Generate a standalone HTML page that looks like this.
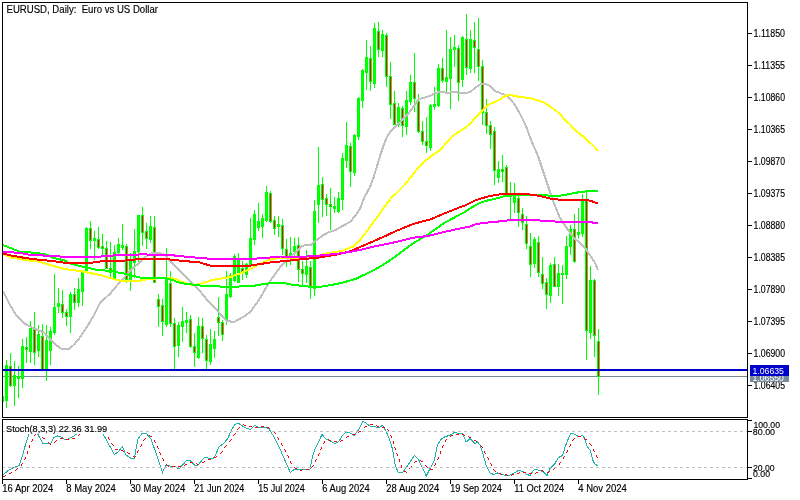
<!DOCTYPE html><html><head><meta charset="utf-8"><title>EURUSD Daily</title><style>html,body{margin:0;padding:0;background:#fff;width:800px;height:500px;overflow:hidden}svg{display:block}</style></head><body><svg width="800" height="500" viewBox="0 0 800 500"><defs><clipPath id="cm"><rect x="3" y="3" width="744" height="414"/></clipPath><clipPath id="cs"><rect x="3" y="420" width="744" height="59"/></clipPath></defs><rect x="0" y="0" width="800" height="500" fill="#ffffff"/><g clip-path="url(#cm)"><rect x="3" y="376" width="744" height="1" fill="#778899" shape-rendering="crispEdges"/><g shape-rendering="crispEdges"><rect x="2" y="391" width="1" height="16" fill="#00ff00"/><rect x="1" y="396" width="3" height="6" fill="#00ff00"/><rect x="6" y="360" width="1" height="48" fill="#00ff00"/><rect x="5" y="365" width="3" height="36" fill="#00ff00"/><rect x="10" y="353" width="1" height="34" fill="#00ff00"/><rect x="9" y="366" width="3" height="20" fill="#00ff00"/><rect x="10" y="367" width="1" height="18" fill="#ff0000"/><rect x="14" y="361" width="1" height="45" fill="#00ff00"/><rect x="13" y="375" width="3" height="11" fill="#00ff00"/><rect x="18" y="366" width="1" height="32" fill="#00ff00"/><rect x="17" y="376" width="3" height="3" fill="#00ff00"/><rect x="22" y="339" width="1" height="49" fill="#00ff00"/><rect x="21" y="346" width="3" height="33" fill="#00ff00"/><rect x="26" y="337" width="1" height="26" fill="#00ff00"/><rect x="25" y="347" width="3" height="3" fill="#00ff00"/><rect x="26" y="348" width="1" height="1" fill="#ff0000"/><rect x="30" y="321" width="1" height="42" fill="#00ff00"/><rect x="29" y="328" width="3" height="24" fill="#00ff00"/><rect x="34" y="312" width="1" height="53" fill="#00ff00"/><rect x="33" y="328" width="3" height="25" fill="#00ff00"/><rect x="34" y="329" width="1" height="23" fill="#ff0000"/><rect x="38" y="325" width="1" height="32" fill="#00ff00"/><rect x="37" y="334" width="3" height="17" fill="#00ff00"/><rect x="42" y="324" width="1" height="46" fill="#00ff00"/><rect x="41" y="336" width="3" height="34" fill="#00ff00"/><rect x="42" y="337" width="1" height="32" fill="#ff0000"/><rect x="46" y="325" width="1" height="56" fill="#00ff00"/><rect x="45" y="340" width="3" height="30" fill="#00ff00"/><rect x="50" y="327" width="1" height="38" fill="#00ff00"/><rect x="49" y="331" width="3" height="20" fill="#00ff00"/><rect x="54" y="274" width="1" height="61" fill="#00ff00"/><rect x="53" y="307" width="3" height="26" fill="#00ff00"/><rect x="58" y="288" width="1" height="25" fill="#00ff00"/><rect x="57" y="303" width="3" height="4" fill="#00ff00"/><rect x="62" y="290" width="1" height="28" fill="#00ff00"/><rect x="61" y="304" width="3" height="9" fill="#00ff00"/><rect x="62" y="305" width="1" height="7" fill="#ff0000"/><rect x="66" y="309" width="1" height="17" fill="#00ff00"/><rect x="65" y="312" width="3" height="5" fill="#00ff00"/><rect x="66" y="313" width="1" height="3" fill="#ff0000"/><rect x="70" y="292" width="1" height="41" fill="#00ff00"/><rect x="69" y="294" width="3" height="23" fill="#00ff00"/><rect x="74" y="288" width="1" height="22" fill="#00ff00"/><rect x="73" y="294" width="3" height="9" fill="#00ff00"/><rect x="74" y="295" width="1" height="7" fill="#ff0000"/><rect x="78" y="278" width="1" height="29" fill="#00ff00"/><rect x="77" y="289" width="3" height="14" fill="#00ff00"/><rect x="82" y="270" width="1" height="36" fill="#00ff00"/><rect x="81" y="272" width="3" height="20" fill="#00ff00"/><rect x="86" y="227" width="1" height="46" fill="#00ff00"/><rect x="85" y="228" width="3" height="45" fill="#00ff00"/><rect x="90" y="221" width="1" height="28" fill="#00ff00"/><rect x="89" y="228" width="3" height="13" fill="#00ff00"/><rect x="90" y="229" width="1" height="11" fill="#ff0000"/><rect x="94" y="231" width="1" height="29" fill="#00ff00"/><rect x="93" y="238" width="3" height="3" fill="#00ff00"/><rect x="98" y="227" width="1" height="22" fill="#00ff00"/><rect x="97" y="239" width="3" height="9" fill="#00ff00"/><rect x="98" y="240" width="1" height="7" fill="#ff0000"/><rect x="102" y="234" width="1" height="22" fill="#00ff00"/><rect x="101" y="246" width="3" height="3" fill="#00ff00"/><rect x="102" y="247" width="1" height="1" fill="#ff0000"/><rect x="106" y="241" width="1" height="28" fill="#00ff00"/><rect x="105" y="248" width="3" height="21" fill="#00ff00"/><rect x="106" y="249" width="1" height="19" fill="#ff0000"/><rect x="110" y="242" width="1" height="37" fill="#00ff00"/><rect x="109" y="268" width="3" height="5" fill="#00ff00"/><rect x="110" y="269" width="1" height="3" fill="#ff0000"/><rect x="114" y="245" width="1" height="35" fill="#00ff00"/><rect x="113" y="252" width="3" height="28" fill="#00ff00"/><rect x="118" y="238" width="1" height="18" fill="#00ff00"/><rect x="117" y="244" width="3" height="9" fill="#00ff00"/><rect x="122" y="224" width="1" height="26" fill="#00ff00"/><rect x="121" y="245" width="3" height="3" fill="#00ff00"/><rect x="126" y="244" width="1" height="39" fill="#00ff00"/><rect x="125" y="246" width="3" height="34" fill="#00ff00"/><rect x="126" y="247" width="1" height="32" fill="#ff0000"/><rect x="130" y="253" width="1" height="38" fill="#00ff00"/><rect x="129" y="260" width="3" height="22" fill="#00ff00"/><rect x="134" y="229" width="1" height="49" fill="#00ff00"/><rect x="133" y="251" width="3" height="12" fill="#00ff00"/><rect x="138" y="215" width="1" height="47" fill="#00ff00"/><rect x="137" y="215" width="3" height="37" fill="#00ff00"/><rect x="142" y="207" width="1" height="39" fill="#00ff00"/><rect x="141" y="215" width="3" height="18" fill="#00ff00"/><rect x="142" y="216" width="1" height="16" fill="#ff0000"/><rect x="146" y="223" width="1" height="26" fill="#00ff00"/><rect x="145" y="231" width="3" height="8" fill="#00ff00"/><rect x="146" y="232" width="1" height="6" fill="#ff0000"/><rect x="150" y="216" width="1" height="27" fill="#00ff00"/><rect x="149" y="226" width="3" height="14" fill="#00ff00"/><rect x="154" y="216" width="1" height="67" fill="#00ff00"/><rect x="153" y="227" width="3" height="56" fill="#00ff00"/><rect x="154" y="228" width="1" height="54" fill="#ff0000"/><rect x="158" y="294" width="1" height="33" fill="#00ff00"/><rect x="157" y="299" width="3" height="8" fill="#00ff00"/><rect x="158" y="300" width="1" height="6" fill="#ff0000"/><rect x="162" y="299" width="1" height="37" fill="#00ff00"/><rect x="161" y="305" width="3" height="17" fill="#00ff00"/><rect x="162" y="306" width="1" height="15" fill="#ff0000"/><rect x="166" y="248" width="1" height="79" fill="#00ff00"/><rect x="165" y="279" width="3" height="46" fill="#00ff00"/><rect x="170" y="271" width="1" height="56" fill="#00ff00"/><rect x="169" y="283" width="3" height="41" fill="#00ff00"/><rect x="170" y="284" width="1" height="39" fill="#ff0000"/><rect x="174" y="318" width="1" height="51" fill="#00ff00"/><rect x="173" y="323" width="3" height="24" fill="#00ff00"/><rect x="174" y="324" width="1" height="22" fill="#ff0000"/><rect x="178" y="322" width="1" height="35" fill="#00ff00"/><rect x="177" y="325" width="3" height="21" fill="#00ff00"/><rect x="182" y="307" width="1" height="35" fill="#00ff00"/><rect x="181" y="321" width="3" height="6" fill="#00ff00"/><rect x="186" y="312" width="1" height="21" fill="#00ff00"/><rect x="185" y="320" width="3" height="3" fill="#00ff00"/><rect x="190" y="315" width="1" height="33" fill="#00ff00"/><rect x="189" y="319" width="3" height="28" fill="#00ff00"/><rect x="190" y="320" width="1" height="26" fill="#ff0000"/><rect x="194" y="333" width="1" height="34" fill="#00ff00"/><rect x="193" y="346" width="3" height="7" fill="#00ff00"/><rect x="194" y="347" width="1" height="5" fill="#ff0000"/><rect x="198" y="317" width="1" height="42" fill="#00ff00"/><rect x="197" y="326" width="3" height="32" fill="#00ff00"/><rect x="202" y="318" width="1" height="35" fill="#00ff00"/><rect x="201" y="326" width="3" height="13" fill="#00ff00"/><rect x="202" y="327" width="1" height="11" fill="#ff0000"/><rect x="206" y="335" width="1" height="35" fill="#00ff00"/><rect x="205" y="339" width="3" height="22" fill="#00ff00"/><rect x="206" y="340" width="1" height="20" fill="#ff0000"/><rect x="210" y="329" width="1" height="36" fill="#00ff00"/><rect x="209" y="344" width="3" height="18" fill="#00ff00"/><rect x="214" y="331" width="1" height="27" fill="#00ff00"/><rect x="213" y="339" width="3" height="10" fill="#00ff00"/><rect x="218" y="297" width="1" height="39" fill="#00ff00"/><rect x="217" y="317" width="3" height="6" fill="#00ff00"/><rect x="218" y="318" width="1" height="4" fill="#ff0000"/><rect x="222" y="320" width="1" height="21" fill="#00ff00"/><rect x="221" y="322" width="3" height="13" fill="#00ff00"/><rect x="222" y="323" width="1" height="11" fill="#ff0000"/><rect x="226" y="271" width="1" height="54" fill="#00ff00"/><rect x="225" y="294" width="3" height="26" fill="#00ff00"/><rect x="230" y="273" width="1" height="25" fill="#00ff00"/><rect x="229" y="275" width="3" height="22" fill="#00ff00"/><rect x="234" y="254" width="1" height="28" fill="#00ff00"/><rect x="233" y="256" width="3" height="25" fill="#00ff00"/><rect x="238" y="253" width="1" height="30" fill="#00ff00"/><rect x="237" y="260" width="3" height="23" fill="#00ff00"/><rect x="242" y="261" width="1" height="19" fill="#00ff00"/><rect x="241" y="268" width="3" height="5" fill="#00ff00"/><rect x="242" y="269" width="1" height="3" fill="#ff0000"/><rect x="246" y="263" width="1" height="15" fill="#00ff00"/><rect x="245" y="264" width="3" height="11" fill="#00ff00"/><rect x="250" y="218" width="1" height="49" fill="#00ff00"/><rect x="249" y="238" width="3" height="28" fill="#00ff00"/><rect x="254" y="210" width="1" height="35" fill="#00ff00"/><rect x="253" y="214" width="3" height="26" fill="#00ff00"/><rect x="258" y="203" width="1" height="28" fill="#00ff00"/><rect x="257" y="221" width="3" height="7" fill="#00ff00"/><rect x="262" y="214" width="1" height="24" fill="#00ff00"/><rect x="261" y="218" width="3" height="9" fill="#00ff00"/><rect x="266" y="186" width="1" height="36" fill="#00ff00"/><rect x="265" y="192" width="3" height="29" fill="#00ff00"/><rect x="270" y="191" width="1" height="32" fill="#00ff00"/><rect x="269" y="193" width="3" height="29" fill="#00ff00"/><rect x="270" y="194" width="1" height="27" fill="#ff0000"/><rect x="274" y="216" width="1" height="19" fill="#00ff00"/><rect x="273" y="220" width="3" height="9" fill="#00ff00"/><rect x="274" y="221" width="1" height="7" fill="#ff0000"/><rect x="278" y="216" width="1" height="21" fill="#00ff00"/><rect x="277" y="224" width="3" height="3" fill="#00ff00"/><rect x="282" y="219" width="1" height="36" fill="#00ff00"/><rect x="281" y="225" width="3" height="24" fill="#00ff00"/><rect x="282" y="226" width="1" height="22" fill="#ff0000"/><rect x="286" y="239" width="1" height="28" fill="#00ff00"/><rect x="285" y="249" width="3" height="8" fill="#00ff00"/><rect x="286" y="250" width="1" height="6" fill="#ff0000"/><rect x="290" y="237" width="1" height="28" fill="#00ff00"/><rect x="289" y="253" width="3" height="4" fill="#00ff00"/><rect x="294" y="238" width="1" height="19" fill="#00ff00"/><rect x="293" y="246" width="3" height="6" fill="#00ff00"/><rect x="298" y="237" width="1" height="45" fill="#00ff00"/><rect x="297" y="245" width="3" height="25" fill="#00ff00"/><rect x="298" y="246" width="1" height="23" fill="#ff0000"/><rect x="302" y="261" width="1" height="24" fill="#00ff00"/><rect x="301" y="269" width="3" height="5" fill="#00ff00"/><rect x="302" y="270" width="1" height="3" fill="#ff0000"/><rect x="306" y="250" width="1" height="33" fill="#00ff00"/><rect x="305" y="266" width="3" height="9" fill="#00ff00"/><rect x="310" y="261" width="1" height="38" fill="#00ff00"/><rect x="309" y="267" width="3" height="20" fill="#00ff00"/><rect x="310" y="268" width="1" height="18" fill="#ff0000"/><rect x="314" y="200" width="1" height="96" fill="#00ff00"/><rect x="313" y="211" width="3" height="78" fill="#00ff00"/><rect x="318" y="147" width="1" height="76" fill="#00ff00"/><rect x="317" y="185" width="3" height="20" fill="#00ff00"/><rect x="322" y="177" width="1" height="40" fill="#00ff00"/><rect x="321" y="184" width="3" height="16" fill="#00ff00"/><rect x="322" y="185" width="1" height="14" fill="#ff0000"/><rect x="326" y="194" width="1" height="22" fill="#00ff00"/><rect x="325" y="198" width="3" height="7" fill="#00ff00"/><rect x="326" y="199" width="1" height="5" fill="#ff0000"/><rect x="330" y="188" width="1" height="42" fill="#00ff00"/><rect x="329" y="204" width="3" height="3" fill="#00ff00"/><rect x="330" y="205" width="1" height="1" fill="#ff0000"/><rect x="334" y="197" width="1" height="16" fill="#00ff00"/><rect x="333" y="206" width="3" height="3" fill="#00ff00"/><rect x="338" y="192" width="1" height="21" fill="#00ff00"/><rect x="337" y="198" width="3" height="14" fill="#00ff00"/><rect x="342" y="153" width="1" height="57" fill="#00ff00"/><rect x="341" y="158" width="3" height="42" fill="#00ff00"/><rect x="346" y="122" width="1" height="46" fill="#00ff00"/><rect x="345" y="145" width="3" height="16" fill="#00ff00"/><rect x="350" y="143" width="1" height="44" fill="#00ff00"/><rect x="349" y="146" width="3" height="26" fill="#00ff00"/><rect x="350" y="147" width="1" height="24" fill="#ff0000"/><rect x="354" y="134" width="1" height="42" fill="#00ff00"/><rect x="353" y="135" width="3" height="38" fill="#00ff00"/><rect x="358" y="97" width="1" height="43" fill="#00ff00"/><rect x="357" y="98" width="3" height="39" fill="#00ff00"/><rect x="362" y="69" width="1" height="39" fill="#00ff00"/><rect x="361" y="70" width="3" height="31" fill="#00ff00"/><rect x="366" y="40" width="1" height="50" fill="#00ff00"/><rect x="365" y="57" width="3" height="16" fill="#00ff00"/><rect x="370" y="46" width="1" height="45" fill="#00ff00"/><rect x="369" y="58" width="3" height="24" fill="#00ff00"/><rect x="370" y="59" width="1" height="22" fill="#ff0000"/><rect x="374" y="23" width="1" height="65" fill="#00ff00"/><rect x="373" y="28" width="3" height="56" fill="#00ff00"/><rect x="378" y="22" width="1" height="35" fill="#00ff00"/><rect x="377" y="31" width="3" height="19" fill="#00ff00"/><rect x="378" y="32" width="1" height="17" fill="#ff0000"/><rect x="382" y="30" width="1" height="27" fill="#00ff00"/><rect x="381" y="34" width="3" height="17" fill="#00ff00"/><rect x="386" y="33" width="1" height="54" fill="#00ff00"/><rect x="385" y="35" width="3" height="42" fill="#00ff00"/><rect x="386" y="36" width="1" height="40" fill="#ff0000"/><rect x="390" y="62" width="1" height="57" fill="#00ff00"/><rect x="389" y="76" width="3" height="29" fill="#00ff00"/><rect x="390" y="77" width="1" height="27" fill="#ff0000"/><rect x="394" y="91" width="1" height="34" fill="#00ff00"/><rect x="393" y="103" width="3" height="22" fill="#00ff00"/><rect x="394" y="104" width="1" height="20" fill="#ff0000"/><rect x="398" y="103" width="1" height="24" fill="#00ff00"/><rect x="397" y="107" width="3" height="18" fill="#00ff00"/><rect x="402" y="106" width="1" height="31" fill="#00ff00"/><rect x="401" y="108" width="3" height="18" fill="#00ff00"/><rect x="402" y="109" width="1" height="16" fill="#ff0000"/><rect x="406" y="91" width="1" height="44" fill="#00ff00"/><rect x="405" y="100" width="3" height="27" fill="#00ff00"/><rect x="410" y="75" width="1" height="30" fill="#00ff00"/><rect x="409" y="82" width="3" height="20" fill="#00ff00"/><rect x="414" y="53" width="1" height="59" fill="#00ff00"/><rect x="413" y="82" width="3" height="17" fill="#00ff00"/><rect x="414" y="83" width="1" height="15" fill="#ff0000"/><rect x="418" y="94" width="1" height="39" fill="#00ff00"/><rect x="417" y="101" width="3" height="31" fill="#00ff00"/><rect x="418" y="102" width="1" height="29" fill="#ff0000"/><rect x="422" y="121" width="1" height="24" fill="#00ff00"/><rect x="421" y="131" width="3" height="11" fill="#00ff00"/><rect x="422" y="132" width="1" height="9" fill="#ff0000"/><rect x="426" y="117" width="1" height="36" fill="#00ff00"/><rect x="425" y="141" width="3" height="5" fill="#00ff00"/><rect x="426" y="142" width="1" height="3" fill="#ff0000"/><rect x="430" y="104" width="1" height="47" fill="#00ff00"/><rect x="429" y="105" width="3" height="43" fill="#00ff00"/><rect x="434" y="87" width="1" height="23" fill="#00ff00"/><rect x="433" y="104" width="3" height="3" fill="#00ff00"/><rect x="438" y="64" width="1" height="43" fill="#00ff00"/><rect x="437" y="68" width="3" height="38" fill="#00ff00"/><rect x="442" y="58" width="1" height="25" fill="#00ff00"/><rect x="441" y="68" width="3" height="13" fill="#00ff00"/><rect x="442" y="69" width="1" height="11" fill="#ff0000"/><rect x="446" y="30" width="1" height="62" fill="#00ff00"/><rect x="445" y="77" width="3" height="5" fill="#00ff00"/><rect x="450" y="37" width="1" height="72" fill="#00ff00"/><rect x="449" y="49" width="3" height="30" fill="#00ff00"/><rect x="454" y="35" width="1" height="32" fill="#00ff00"/><rect x="453" y="47" width="3" height="3" fill="#00ff00"/><rect x="458" y="45" width="1" height="56" fill="#00ff00"/><rect x="457" y="48" width="3" height="35" fill="#00ff00"/><rect x="458" y="49" width="1" height="33" fill="#ff0000"/><rect x="462" y="36" width="1" height="51" fill="#00ff00"/><rect x="461" y="37" width="3" height="43" fill="#00ff00"/><rect x="466" y="14" width="1" height="61" fill="#00ff00"/><rect x="465" y="39" width="3" height="29" fill="#00ff00"/><rect x="466" y="40" width="1" height="27" fill="#ff0000"/><rect x="470" y="30" width="1" height="43" fill="#00ff00"/><rect x="469" y="39" width="3" height="30" fill="#00ff00"/><rect x="474" y="22" width="1" height="51" fill="#00ff00"/><rect x="473" y="40" width="3" height="8" fill="#00ff00"/><rect x="474" y="41" width="1" height="6" fill="#ff0000"/><rect x="478" y="18" width="1" height="63" fill="#00ff00"/><rect x="477" y="49" width="3" height="18" fill="#00ff00"/><rect x="478" y="50" width="1" height="16" fill="#ff0000"/><rect x="482" y="60" width="1" height="65" fill="#00ff00"/><rect x="481" y="66" width="3" height="47" fill="#00ff00"/><rect x="482" y="67" width="1" height="45" fill="#ff0000"/><rect x="486" y="99" width="1" height="35" fill="#00ff00"/><rect x="485" y="112" width="3" height="14" fill="#00ff00"/><rect x="486" y="113" width="1" height="12" fill="#ff0000"/><rect x="490" y="121" width="1" height="28" fill="#00ff00"/><rect x="489" y="125" width="3" height="10" fill="#00ff00"/><rect x="490" y="126" width="1" height="8" fill="#ff0000"/><rect x="494" y="127" width="1" height="58" fill="#00ff00"/><rect x="493" y="131" width="3" height="40" fill="#00ff00"/><rect x="494" y="132" width="1" height="38" fill="#ff0000"/><rect x="498" y="161" width="1" height="22" fill="#00ff00"/><rect x="497" y="169" width="3" height="9" fill="#00ff00"/><rect x="502" y="155" width="1" height="27" fill="#00ff00"/><rect x="501" y="169" width="3" height="3" fill="#00ff00"/><rect x="502" y="170" width="1" height="1" fill="#ff0000"/><rect x="506" y="165" width="1" height="30" fill="#00ff00"/><rect x="505" y="167" width="3" height="27" fill="#00ff00"/><rect x="506" y="168" width="1" height="25" fill="#ff0000"/><rect x="510" y="182" width="1" height="37" fill="#00ff00"/><rect x="509" y="194" width="3" height="3" fill="#00ff00"/><rect x="514" y="183" width="1" height="30" fill="#00ff00"/><rect x="513" y="196" width="3" height="7" fill="#00ff00"/><rect x="518" y="196" width="1" height="31" fill="#00ff00"/><rect x="517" y="198" width="3" height="15" fill="#00ff00"/><rect x="518" y="199" width="1" height="13" fill="#ff0000"/><rect x="522" y="208" width="1" height="22" fill="#00ff00"/><rect x="521" y="214" width="3" height="9" fill="#00ff00"/><rect x="522" y="215" width="1" height="7" fill="#ff0000"/><rect x="526" y="216" width="1" height="33" fill="#00ff00"/><rect x="525" y="224" width="3" height="20" fill="#00ff00"/><rect x="526" y="225" width="1" height="18" fill="#ff0000"/><rect x="530" y="233" width="1" height="44" fill="#00ff00"/><rect x="529" y="246" width="3" height="19" fill="#00ff00"/><rect x="530" y="247" width="1" height="17" fill="#ff0000"/><rect x="534" y="237" width="1" height="31" fill="#00ff00"/><rect x="533" y="239" width="3" height="25" fill="#00ff00"/><rect x="538" y="236" width="1" height="41" fill="#00ff00"/><rect x="537" y="242" width="3" height="31" fill="#00ff00"/><rect x="538" y="243" width="1" height="29" fill="#ff0000"/><rect x="542" y="257" width="1" height="32" fill="#00ff00"/><rect x="541" y="274" width="3" height="10" fill="#00ff00"/><rect x="542" y="275" width="1" height="8" fill="#ff0000"/><rect x="546" y="278" width="1" height="31" fill="#00ff00"/><rect x="545" y="282" width="3" height="13" fill="#00ff00"/><rect x="546" y="283" width="1" height="11" fill="#ff0000"/><rect x="550" y="263" width="1" height="40" fill="#00ff00"/><rect x="549" y="265" width="3" height="31" fill="#00ff00"/><rect x="554" y="257" width="1" height="30" fill="#00ff00"/><rect x="553" y="264" width="3" height="23" fill="#00ff00"/><rect x="554" y="265" width="1" height="21" fill="#ff0000"/><rect x="558" y="264" width="1" height="32" fill="#00ff00"/><rect x="557" y="273" width="3" height="14" fill="#00ff00"/><rect x="562" y="265" width="1" height="39" fill="#00ff00"/><rect x="561" y="273" width="3" height="2" fill="#00ff00"/><rect x="566" y="236" width="1" height="43" fill="#00ff00"/><rect x="565" y="246" width="3" height="29" fill="#00ff00"/><rect x="570" y="225" width="1" height="30" fill="#00ff00"/><rect x="569" y="229" width="3" height="18" fill="#00ff00"/><rect x="574" y="214" width="1" height="49" fill="#00ff00"/><rect x="573" y="229" width="3" height="33" fill="#00ff00"/><rect x="574" y="230" width="1" height="31" fill="#ff0000"/><rect x="578" y="208" width="1" height="31" fill="#00ff00"/><rect x="577" y="232" width="3" height="3" fill="#00ff00"/><rect x="582" y="194" width="1" height="43" fill="#00ff00"/><rect x="581" y="201" width="3" height="33" fill="#00ff00"/><rect x="586" y="192" width="1" height="168" fill="#00ff00"/><rect x="585" y="199" width="3" height="132" fill="#00ff00"/><rect x="586" y="200" width="1" height="130" fill="#ff0000"/><rect x="590" y="266" width="1" height="73" fill="#00ff00"/><rect x="589" y="280" width="3" height="53" fill="#00ff00"/><rect x="594" y="279" width="1" height="78" fill="#00ff00"/><rect x="593" y="280" width="3" height="56" fill="#00ff00"/><rect x="594" y="281" width="1" height="54" fill="#ff0000"/><rect x="598" y="329" width="1" height="66" fill="#00ff00"/><rect x="597" y="341" width="3" height="36" fill="#00ff00"/><rect x="598" y="342" width="1" height="34" fill="#ff0000"/></g><polyline points="3.00,291.00 10.00,305.00 16.00,315.00 25.00,323.75 31.00,327.00 37.50,330.00 44.00,332.50 50.00,338.75 56.00,345.00 62.50,349.40 69.00,348.75 75.00,343.75 81.00,336.00 87.50,326.00 94.00,315.00 100.00,303.00 110.00,293.75 120.00,282.00 130.00,271.00 140.00,262.00 145.00,257.00 150.00,254.00 155.00,252.50 160.00,253.00 165.00,255.00 170.00,261.00 180.00,271.00 190.00,281.00 200.00,291.00 207.00,300.00 219.00,312.50 227.00,321.00 234.00,322.00 245.00,316.00 251.00,311.00 259.00,300.00 270.00,281.00 281.00,266.00 290.00,257.00 295.00,253.00 302.50,245.60 311.00,245.00 316.00,240.60 322.50,235.60 329.00,232.00 335.00,230.30 342.50,226.00 350.00,222.00 355.00,216.00 360.00,209.00 364.00,198.00 370.00,187.00 374.00,176.00 378.00,163.00 380.00,156.00 384.00,144.00 387.00,137.00 390.00,132.00 395.00,127.00 400.00,122.50 405.00,117.00 410.00,111.50 415.00,104.50 418.00,100.00 420.00,98.75 425.00,97.50 430.00,96.00 435.00,93.00 440.00,92.00 445.00,92.50 450.00,92.50 455.00,92.00 460.00,93.00 465.00,93.50 470.00,92.00 475.00,88.00 480.00,84.40 483.00,83.50 487.00,84.40 490.00,86.00 495.00,91.00 500.00,93.00 505.00,95.00 510.00,98.75 515.00,105.00 520.00,114.00 526.00,126.00 531.00,140.00 538.00,156.00 544.00,174.00 550.00,192.00 555.00,206.00 560.00,218.00 568.00,230.00 574.00,238.00 580.00,243.00 585.00,248.00 590.00,255.00 595.00,263.00 598.00,270.00" fill="none" stroke="#c0c0c0" stroke-width="2" stroke-linejoin="round" shape-rendering="crispEdges"/><polyline points="3.00,254.00 12.00,257.80 20.00,259.00 30.00,260.60 38.00,261.40 42.00,262.60 50.00,265.00 60.00,267.80 64.00,269.00 80.00,271.00 100.00,275.00 115.00,279.50 125.00,281.50 140.00,280.60 150.00,278.75 170.00,278.00 176.00,279.00 180.00,281.00 185.00,283.00 190.00,284.50 197.00,284.50 205.00,282.50 212.00,280.00 220.00,278.75 230.00,277.00 240.00,273.50 244.00,272.00 252.00,268.00 260.00,264.00 268.00,260.00 276.00,258.40 292.00,257.60 300.00,258.00 312.50,258.50 319.00,255.50 325.00,253.75 335.00,252.00 342.50,250.60 347.50,248.75 350.00,247.60 354.00,246.30 360.00,240.00 366.00,232.40 372.00,224.00 379.00,214.80 385.00,206.00 392.00,197.20 398.00,191.60 404.00,185.50 411.00,177.00 416.00,170.50 424.00,162.00 430.00,157.00 440.00,150.00 445.00,144.40 452.00,136.50 460.00,131.00 465.00,128.00 470.00,124.00 475.00,118.00 480.00,113.00 485.00,107.50 490.00,103.75 495.00,102.00 500.00,99.40 505.00,96.00 510.00,95.00 515.00,96.00 520.00,97.00 530.00,98.00 535.00,99.40 540.00,101.00 545.00,103.00 550.00,106.50 555.00,110.00 560.00,114.00 565.00,120.00 570.00,124.50 575.00,130.00 580.00,134.20 585.00,137.80 590.00,142.60 595.00,147.40 598.00,151.00" fill="none" stroke="#ffff00" stroke-width="2" stroke-linejoin="round" shape-rendering="crispEdges"/><polyline points="3.00,245.00 8.00,247.00 12.00,248.60 16.00,250.20 20.00,251.80 28.00,252.20 36.00,253.00 42.00,253.80 47.00,254.60 52.00,257.40 56.00,258.60 60.00,259.40 64.00,260.20 70.00,263.50 80.00,266.00 95.00,269.50 110.00,271.00 125.00,273.75 140.00,277.50 160.00,277.50 170.00,279.00 180.00,283.00 200.00,285.50 230.00,287.00 255.00,285.60 265.00,283.75 275.00,283.00 285.00,283.40 295.00,285.20 300.00,285.60 310.00,286.80 319.00,287.00 331.00,285.00 341.00,283.00 350.00,280.60 356.00,278.75 362.50,275.60 369.00,272.50 375.00,269.40 381.00,266.00 387.50,262.00 394.00,257.50 400.00,253.00 412.00,244.00 428.00,234.40 444.00,223.20 460.00,214.40 465.00,212.00 470.00,208.50 475.00,205.60 480.00,203.00 485.00,201.00 490.00,200.00 495.00,198.75 500.00,197.50 505.00,196.00 510.00,195.60 520.00,195.00 530.00,194.75 540.00,195.00 550.00,195.60 555.00,196.25 560.00,195.60 565.00,195.00 570.00,193.75 575.00,193.00 580.00,192.00 585.00,191.50 590.00,191.25 598.00,190.60" fill="none" stroke="#00ff00" stroke-width="2" stroke-linejoin="round" shape-rendering="crispEdges"/><polyline points="3.00,253.40 10.00,255.40 18.00,256.60 24.00,257.80 32.00,259.00 40.00,259.80 48.00,260.60 58.00,261.80 64.00,262.60 70.00,263.50 90.00,263.00 100.00,261.50 120.00,261.00 140.00,259.00 165.00,259.00 180.00,260.60 200.00,262.50 210.00,265.60 250.00,265.60 262.00,263.75 270.00,262.50 285.00,261.00 300.00,259.40 319.00,257.50 337.50,254.40 350.00,251.25 362.50,246.00 375.00,240.60 387.50,235.00 397.00,230.60 404.40,227.60 412.00,224.50 422.00,221.50 430.00,219.50 444.00,213.60 460.00,207.20 465.00,205.50 470.00,203.00 475.00,200.60 480.00,198.75 490.00,196.00 500.00,194.40 510.00,193.75 525.00,193.75 540.00,196.00 550.00,198.50 560.00,199.75 585.00,200.00 590.00,200.60 595.00,202.50 598.00,203.00" fill="none" stroke="#ff0000" stroke-width="2" stroke-linejoin="round" shape-rendering="crispEdges"/><polyline points="3.00,252.00 10.00,252.00 18.00,253.00 26.00,253.80 28.00,254.60 42.00,254.60 44.00,255.80 58.00,255.80 60.00,256.60 100.00,256.60 111.00,255.60 142.00,254.40 170.00,255.00 181.00,256.25 195.00,257.50 207.00,258.50 227.00,259.40 250.00,259.00 265.00,258.00 270.00,257.50 280.00,256.50 300.00,257.00 319.00,255.60 337.50,253.75 350.00,252.00 362.50,249.40 375.00,246.25 387.50,243.75 396.00,242.00 414.00,237.60 428.00,236.00 444.00,232.00 460.00,228.50 470.00,226.50 475.00,224.40 485.00,222.75 495.00,222.00 505.00,220.60 520.00,220.00 530.00,220.00 550.00,221.00 560.00,222.00 590.00,222.00 595.00,223.00 598.00,223.00" fill="none" stroke="#ff00ff" stroke-width="2" stroke-linejoin="round" shape-rendering="crispEdges"/><g shape-rendering="crispEdges"><rect x="3" y="369" width="744" height="2" fill="#0000cd"/></g></g><g clip-path="url(#cs)"><polyline points="3.00,475.00 7.50,471.00 12.50,468.00 19.00,465.50 22.50,455.50 26.00,443.00 29.00,433.60 33.00,425.00 37.50,433.60 43.00,444.00 48.00,443.00 50.60,444.00 54.00,437.40 57.50,436.00 60.00,436.50 62.50,438.00 66.00,440.00 70.00,438.00 74.00,436.00 77.00,433.60 82.00,427.00 90.00,424.00 98.00,427.00 103.00,434.00 107.50,442.00 114.40,454.50 118.00,452.00 122.50,446.50 126.00,455.00 130.60,458.00 134.40,458.00 138.00,438.60 142.50,433.00 146.00,433.00 151.00,439.00 156.00,453.00 162.50,472.40 166.00,465.00 170.00,466.00 175.00,466.00 179.00,469.00 187.00,460.00 190.00,460.50 194.40,465.00 198.00,465.00 204.00,458.00 207.00,457.40 210.00,459.00 214.40,457.75 219.00,446.75 223.00,444.00 227.50,439.00 231.00,431.00 234.40,425.00 238.00,423.00 242.50,426.00 246.00,428.00 250.60,429.50 254.40,425.50 258.00,427.00 265.00,427.00 269.00,429.00 274.00,436.75 280.00,449.00 285.00,460.50 290.25,472.40 294.40,469.25 310.00,469.25 312.00,459.00 314.40,450.50 317.50,444.25 322.00,434.25 325.60,438.60 335.00,443.60 338.75,441.75 342.00,436.00 345.00,432.75 349.00,432.40 351.00,433.60 354.40,435.50 358.00,430.50 363.00,421.50 366.00,423.00 370.60,426.50 375.00,426.50 378.75,428.00 382.50,425.25 385.60,430.50 389.40,438.60 392.50,449.25 395.00,464.25 398.00,472.00 402.00,473.00 407.50,466.00 414.40,455.25 418.75,460.00 422.50,468.00 426.25,476.00 430.00,468.60 434.40,460.50 437.50,444.90 441.25,439.25 445.00,436.75 450.00,435.25 454.40,432.40 458.75,433.60 462.50,433.60 466.25,442.00 470.00,438.60 475.00,443.60 477.50,441.75 480.00,445.00 483.00,454.25 486.25,465.50 490.00,473.00 493.75,474.50 497.50,473.00 502.00,474.50 507.00,476.00 512.50,474.00 518.75,470.25 523.00,471.50 526.25,474.25 530.00,475.50 534.40,469.25 538.75,470.25 543.00,471.75 547.00,475.50 550.00,468.60 555.00,463.60 558.00,457.75 562.50,455.50 565.60,445.50 570.60,433.25 572.50,433.25 575.00,434.50 578.75,436.75 582.00,435.50 583.75,436.75 587.00,446.00 590.60,451.00 593.00,460.50 595.00,464.25 598.00,465.80" fill="none" stroke="#20b2aa" stroke-width="1" shape-rendering="crispEdges"/><path fill="#ff0000" shape-rendering="crispEdges" d="M3 476h1v1h-1zM4 476h1v1h-1zM5 475h1v1h-1zM9 473h1v1h-1zM10 473h1v1h-1zM11 472h1v1h-1zM15 470h1v1h-1zM16 469h1v1h-1zM17 468h1v1h-1zM21 465h1v1h-1zM21 464h1v1h-1zM22 463h1v1h-1zM24 459h1v1h-1zM25 458h1v1h-1zM25 457h1v1h-1zM27 453h1v1h-1zM27 452h1v1h-1zM27 451h1v1h-1zM29 447h1v1h-1zM29 446h1v1h-1zM29 445h1v1h-1zM31 441h1v1h-1zM32 440h1v1h-1zM32 439h1v1h-1zM34 435h1v1h-1zM35 434h1v1h-1zM36 433h1v1h-1zM39 431h1v1h-1zM39 432h1v1h-1zM40 433h1v1h-1zM42 437h1v1h-1zM43 438h1v1h-1zM44 438h1v1h-1zM48 442h1v1h-1zM49 443h1v1h-1zM50 444h1v1h-1zM54 442h1v1h-1zM55 441h1v1h-1zM56 440h1v1h-1zM60 438h1v1h-1zM61 438h1v1h-1zM62 438h1v1h-1zM66 439h1v1h-1zM67 439h1v1h-1zM68 439h1v1h-1zM72 438h1v1h-1zM73 438h1v1h-1zM74 438h1v1h-1zM78 435h1v1h-1zM79 434h1v1h-1zM80 433h1v1h-1zM84 431h1v1h-1zM85 430h1v1h-1zM86 429h1v1h-1zM90 428h1v1h-1zM91 428h1v1h-1zM92 428h1v1h-1zM96 428h1v1h-1zM97 428h1v1h-1zM98 428h1v1h-1zM102 432h1v1h-1zM103 432h1v1h-1zM104 433h1v1h-1zM108 437h1v1h-1zM108 438h1v1h-1zM109 439h1v1h-1zM111 443h1v1h-1zM112 444h1v1h-1zM113 445h1v1h-1zM115 449h1v1h-1zM116 449h1v1h-1zM117 449h1v1h-1zM121 450h1v1h-1zM122 450h1v1h-1zM123 451h1v1h-1zM127 452h1v1h-1zM128 453h1v1h-1zM129 453h1v1h-1zM133 456h1v1h-1zM134 457h1v1h-1zM135 456h1v1h-1zM137 452h1v1h-1zM137 451h1v1h-1zM138 450h1v1h-1zM140 446h1v1h-1zM141 445h1v1h-1zM141 444h1v1h-1zM143 440h1v1h-1zM144 439h1v1h-1zM145 438h1v1h-1zM149 435h1v1h-1zM150 436h1v1h-1zM151 436h1v1h-1zM154 440h1v1h-1zM154 441h1v1h-1zM155 442h1v1h-1zM157 446h1v1h-1zM157 447h1v1h-1zM158 448h1v1h-1zM159 452h1v1h-1zM160 453h1v1h-1zM160 454h1v1h-1zM162 458h1v1h-1zM163 459h1v1h-1zM163 460h1v1h-1zM166 464h1v1h-1zM167 465h1v1h-1zM168 466h1v1h-1zM172 466h1v1h-1zM173 466h1v1h-1zM174 466h1v1h-1zM178 466h1v1h-1zM179 466h1v1h-1zM180 466h1v1h-1zM184 465h1v1h-1zM185 464h1v1h-1zM186 464h1v1h-1zM190 462h1v1h-1zM191 462h1v1h-1zM192 462h1v1h-1zM196 463h1v1h-1zM197 464h1v1h-1zM198 464h1v1h-1zM202 462h1v1h-1zM203 462h1v1h-1zM204 461h1v1h-1zM208 459h1v1h-1zM209 459h1v1h-1zM210 459h1v1h-1zM214 457h1v1h-1zM215 457h1v1h-1zM216 456h1v1h-1zM220 453h1v1h-1zM221 452h1v1h-1zM222 451h1v1h-1zM224 447h1v1h-1zM225 446h1v1h-1zM226 445h1v1h-1zM229 441h1v1h-1zM230 440h1v1h-1zM231 439h1v1h-1zM233 435h1v1h-1zM234 434h1v1h-1zM235 433h1v1h-1zM237 429h1v1h-1zM238 428h1v1h-1zM239 427h1v1h-1zM243 424h1v1h-1zM244 425h1v1h-1zM245 425h1v1h-1zM249 426h1v1h-1zM250 426h1v1h-1zM251 426h1v1h-1zM255 427h1v1h-1zM256 427h1v1h-1zM257 427h1v1h-1zM261 426h1v1h-1zM262 426h1v1h-1zM263 426h1v1h-1zM267 427h1v1h-1zM268 427h1v1h-1zM269 428h1v1h-1zM273 431h1v1h-1zM274 432h1v1h-1zM275 433h1v1h-1zM277 437h1v1h-1zM278 438h1v1h-1zM278 439h1v1h-1zM281 443h1v1h-1zM281 444h1v1h-1zM282 445h1v1h-1zM284 449h1v1h-1zM285 450h1v1h-1zM285 451h1v1h-1zM287 455h1v1h-1zM288 456h1v1h-1zM288 457h1v1h-1zM290 461h1v1h-1zM290 462h1v1h-1zM291 463h1v1h-1zM294 467h1v1h-1zM295 468h1v1h-1zM296 468h1v1h-1zM300 470h1v1h-1zM301 470h1v1h-1zM302 469h1v1h-1zM306 469h1v1h-1zM307 469h1v1h-1zM308 469h1v1h-1zM311 467h1v1h-1zM312 466h1v1h-1zM313 465h1v1h-1zM315 461h1v1h-1zM315 460h1v1h-1zM316 459h1v1h-1zM318 455h1v1h-1zM318 454h1v1h-1zM319 453h1v1h-1zM320 449h1v1h-1zM321 448h1v1h-1zM321 447h1v1h-1zM323 443h1v1h-1zM324 442h1v1h-1zM324 441h1v1h-1zM328 439h1v1h-1zM329 440h1v1h-1zM330 440h1v1h-1zM334 441h1v1h-1zM335 441h1v1h-1zM336 441h1v1h-1zM340 441h1v1h-1zM341 440h1v1h-1zM342 440h1v1h-1zM346 437h1v1h-1zM347 436h1v1h-1zM348 436h1v1h-1zM352 434h1v1h-1zM353 434h1v1h-1zM354 434h1v1h-1zM358 432h1v1h-1zM359 431h1v1h-1zM360 431h1v1h-1zM364 427h1v1h-1zM365 426h1v1h-1zM366 426h1v1h-1zM370 424h1v1h-1zM371 424h1v1h-1zM372 424h1v1h-1zM376 425h1v1h-1zM377 426h1v1h-1zM378 426h1v1h-1zM382 427h1v1h-1zM383 427h1v1h-1zM384 427h1v1h-1zM387 429h1v1h-1zM388 430h1v1h-1zM388 431h1v1h-1zM390 435h1v1h-1zM391 436h1v1h-1zM391 437h1v1h-1zM393 441h1v1h-1zM393 442h1v1h-1zM393 443h1v1h-1zM394 447h1v1h-1zM395 448h1v1h-1zM395 449h1v1h-1zM396 453h1v1h-1zM397 454h1v1h-1zM397 455h1v1h-1zM399 459h1v1h-1zM399 460h1v1h-1zM399 461h1v1h-1zM401 465h1v1h-1zM401 466h1v1h-1zM401 467h1v1h-1zM404 471h1v1h-1zM405 471h1v1h-1zM406 472h1v1h-1zM409 468h1v1h-1zM410 467h1v1h-1zM411 466h1v1h-1zM414 462h1v1h-1zM415 461h1v1h-1zM416 461h1v1h-1zM420 460h1v1h-1zM421 461h1v1h-1zM422 461h1v1h-1zM425 465h1v1h-1zM426 466h1v1h-1zM427 467h1v1h-1zM430 469h1v1h-1zM431 469h1v1h-1zM432 469h1v1h-1zM434 465h1v1h-1zM435 464h1v1h-1zM435 463h1v1h-1zM437 459h1v1h-1zM438 458h1v1h-1zM438 457h1v1h-1zM440 453h1v1h-1zM440 452h1v1h-1zM440 451h1v1h-1zM442 447h1v1h-1zM442 446h1v1h-1zM443 445h1v1h-1zM445 441h1v1h-1zM445 440h1v1h-1zM446 439h1v1h-1zM450 436h1v1h-1zM451 435h1v1h-1zM452 435h1v1h-1zM456 434h1v1h-1zM457 434h1v1h-1zM458 434h1v1h-1zM462 434h1v1h-1zM463 434h1v1h-1zM464 435h1v1h-1zM468 436h1v1h-1zM469 437h1v1h-1zM470 437h1v1h-1zM474 440h1v1h-1zM475 440h1v1h-1zM476 441h1v1h-1zM480 445h1v1h-1zM481 446h1v1h-1zM482 447h1v1h-1zM484 451h1v1h-1zM484 452h1v1h-1zM485 453h1v1h-1zM487 457h1v1h-1zM488 458h1v1h-1zM488 459h1v1h-1zM490 463h1v1h-1zM491 464h1v1h-1zM491 465h1v1h-1zM493 469h1v1h-1zM494 470h1v1h-1zM495 471h1v1h-1zM499 473h1v1h-1zM500 473h1v1h-1zM501 474h1v1h-1zM505 474h1v1h-1zM506 474h1v1h-1zM507 475h1v1h-1zM511 475h1v1h-1zM512 474h1v1h-1zM513 474h1v1h-1zM517 473h1v1h-1zM518 473h1v1h-1zM519 472h1v1h-1zM523 472h1v1h-1zM524 472h1v1h-1zM525 472h1v1h-1zM529 473h1v1h-1zM530 473h1v1h-1zM531 473h1v1h-1zM535 473h1v1h-1zM536 472h1v1h-1zM537 472h1v1h-1zM541 470h1v1h-1zM542 470h1v1h-1zM543 471h1v1h-1zM547 472h1v1h-1zM548 472h1v1h-1zM549 471h1v1h-1zM553 469h1v1h-1zM554 468h1v1h-1zM555 467h1v1h-1zM559 464h1v1h-1zM559 463h1v1h-1zM560 462h1v1h-1zM563 458h1v1h-1zM563 457h1v1h-1zM564 456h1v1h-1zM566 452h1v1h-1zM567 451h1v1h-1zM567 450h1v1h-1zM569 446h1v1h-1zM570 445h1v1h-1zM570 444h1v1h-1zM572 440h1v1h-1zM573 439h1v1h-1zM574 438h1v1h-1zM578 436h1v1h-1zM579 436h1v1h-1zM580 436h1v1h-1zM584 438h1v1h-1zM585 439h1v1h-1zM586 439h1v1h-1zM589 443h1v1h-1zM590 444h1v1h-1zM591 445h1v1h-1zM593 449h1v1h-1zM593 450h1v1h-1zM594 451h1v1h-1zM596 455h1v1h-1zM596 456h1v1h-1zM597 457h1v1h-1z"/><rect x="3" y="420" width="105" height="14" fill="#ffffff"/><g shape-rendering="crispEdges"><line x1="2" y1="431.5" x2="747" y2="431.5" stroke="#c0c0c0" stroke-width="1" stroke-dasharray="3 3"/><line x1="2" y1="467.5" x2="747" y2="467.5" stroke="#c0c0c0" stroke-width="1" stroke-dasharray="3 3"/></g></g><g shape-rendering="crispEdges" fill="#000000"><rect x="2" y="2" width="746" height="1"/><rect x="2" y="417" width="746" height="1"/><rect x="2" y="2" width="1" height="416"/><rect x="747" y="2" width="1" height="416"/><rect x="2" y="419" width="746" height="1"/><rect x="2" y="479" width="746" height="1"/><rect x="2" y="419" width="1" height="61"/><rect x="747" y="419" width="1" height="61"/><rect x="748" y="33" width="4" height="1"/><rect x="748" y="65" width="4" height="1"/><rect x="748" y="97" width="4" height="1"/><rect x="748" y="129" width="4" height="1"/><rect x="748" y="161" width="4" height="1"/><rect x="748" y="193" width="4" height="1"/><rect x="748" y="225" width="4" height="1"/><rect x="748" y="257" width="4" height="1"/><rect x="748" y="289" width="4" height="1"/><rect x="748" y="321" width="4" height="1"/><rect x="748" y="353" width="4" height="1"/><rect x="748" y="385" width="4" height="1"/><rect x="748" y="420" width="4" height="1"/><rect x="748" y="431" width="4" height="1"/><rect x="748" y="467" width="4" height="1"/><rect x="748" y="478" width="4" height="1"/><rect x="2" y="480" width="1" height="4"/><rect x="66" y="480" width="1" height="4"/><rect x="130" y="480" width="1" height="4"/><rect x="194" y="480" width="1" height="4"/><rect x="258" y="480" width="1" height="4"/><rect x="322" y="480" width="1" height="4"/><rect x="386" y="480" width="1" height="4"/><rect x="450" y="480" width="1" height="4"/><rect x="514" y="480" width="1" height="4"/><rect x="578" y="480" width="1" height="4"/></g><g style="font-family:'Liberation Sans',Arial,sans-serif" fill="#000000" stroke="#000000" stroke-width="0.15"><text x="6.5" y="13" font-size="10" textLength="151.5" lengthAdjust="spacingAndGlyphs" xml:space="preserve">EURUSD, Daily:  Euro vs US Dollar</text><text x="753.6" y="36.6" font-size="10" textLength="31.4" lengthAdjust="spacingAndGlyphs">1.11850</text><text x="753.6" y="68.6" font-size="10" textLength="31.4" lengthAdjust="spacingAndGlyphs">1.11355</text><text x="753.6" y="100.6" font-size="10" textLength="31.4" lengthAdjust="spacingAndGlyphs">1.10860</text><text x="753.6" y="132.6" font-size="10" textLength="31.4" lengthAdjust="spacingAndGlyphs">1.10365</text><text x="753.6" y="164.6" font-size="10" textLength="31.4" lengthAdjust="spacingAndGlyphs">1.09870</text><text x="753.6" y="196.6" font-size="10" textLength="31.4" lengthAdjust="spacingAndGlyphs">1.09375</text><text x="753.6" y="228.6" font-size="10" textLength="31.4" lengthAdjust="spacingAndGlyphs">1.08880</text><text x="753.6" y="260.6" font-size="10" textLength="31.4" lengthAdjust="spacingAndGlyphs">1.08385</text><text x="753.6" y="292.6" font-size="10" textLength="31.4" lengthAdjust="spacingAndGlyphs">1.07890</text><text x="753.6" y="324.6" font-size="10" textLength="31.4" lengthAdjust="spacingAndGlyphs">1.07395</text><text x="753.6" y="356.6" font-size="10" textLength="31.4" lengthAdjust="spacingAndGlyphs">1.06900</text><text x="753.6" y="388.6" font-size="10" textLength="31.4" lengthAdjust="spacingAndGlyphs">1.06405</text><text x="753.4" y="428" font-size="9.7" textLength="26.6" lengthAdjust="spacingAndGlyphs">100.00</text><text x="752.8" y="435" font-size="9.7" textLength="22.2" lengthAdjust="spacingAndGlyphs">80.00</text><text x="753" y="471" font-size="9.7" textLength="21.7" lengthAdjust="spacingAndGlyphs">20.00</text><text x="753" y="477" font-size="9.7" textLength="17" lengthAdjust="spacingAndGlyphs">0.00</text><text x="6" y="432" font-size="9.7" textLength="101.2" lengthAdjust="spacingAndGlyphs" xml:space="preserve">Stoch(8,3,3) 22.36 31.99</text><text x="2.3" y="492" font-size="10" textLength="51" lengthAdjust="spacingAndGlyphs">16 Apr 2024</text><text x="66.3" y="492" font-size="10" textLength="49.6" lengthAdjust="spacingAndGlyphs">8 May 2024</text><text x="130.3" y="492" font-size="10" textLength="55" lengthAdjust="spacingAndGlyphs">30 May 2024</text><text x="194.3" y="492" font-size="10" textLength="50" lengthAdjust="spacingAndGlyphs">21 Jun 2024</text><text x="258.3" y="492" font-size="10" textLength="46.5" lengthAdjust="spacingAndGlyphs">15 Jul 2024</text><text x="322.3" y="492" font-size="10" textLength="47.3" lengthAdjust="spacingAndGlyphs">6 Aug 2024</text><text x="386.3" y="492" font-size="10" textLength="53" lengthAdjust="spacingAndGlyphs">28 Aug 2024</text><text x="450.3" y="492" font-size="10" textLength="51.6" lengthAdjust="spacingAndGlyphs">19 Sep 2024</text><text x="514.3" y="492" font-size="10" textLength="50" lengthAdjust="spacingAndGlyphs">11 Oct 2024</text><text x="578.3" y="492" font-size="10" textLength="48.5" lengthAdjust="spacingAndGlyphs">4 Nov 2024</text></g><g shape-rendering="crispEdges"><rect x="750" y="371" width="39" height="11" fill="#778899"/></g><text x="752.5" y="381" font-size="9.7" textLength="31.4" lengthAdjust="spacingAndGlyphs" fill="#ffffff" style="font-family:'Liberation Sans',Arial,sans-serif">1.06550</text><rect x="750" y="365" width="39" height="11" fill="#0000cd" shape-rendering="crispEdges"/><text x="752.5" y="374" font-size="9.7" textLength="31.4" lengthAdjust="spacingAndGlyphs" fill="#ffffff" style="font-family:'Liberation Sans',Arial,sans-serif">1.06635</text></svg></body></html>
